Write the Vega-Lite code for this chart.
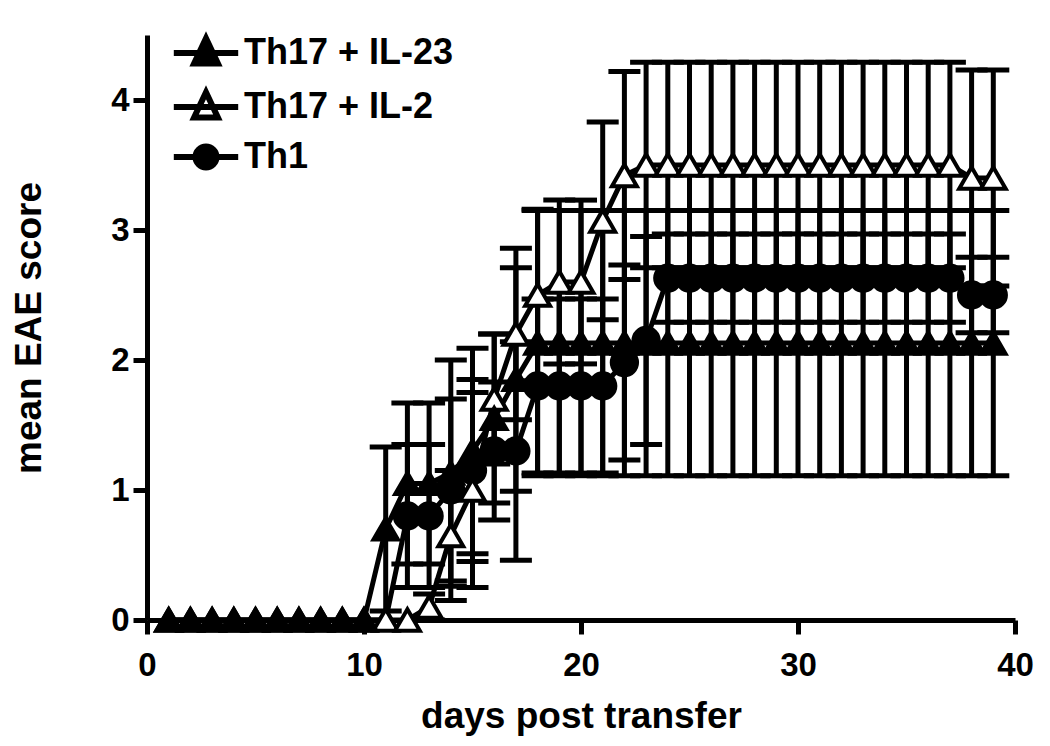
{
  "$schema": "https://vega.github.io/schema/vega-lite/v6.json",
  "width": 868,
  "height": 585,
  "autosize": "none",
  "padding": {"left": 147, "top": 35, "right": 35, "bottom": 126},
  "background": "white",
  "config": {
    "view": {"stroke": null},
    "font": "Liberation Sans",
    "axis": {
      "domainColor": "black", "domainWidth": 5, "tickColor": "black", "tickWidth": 5, "tickSize": 14,
      "labelColor": "black", "labelFont": "Liberation Sans", "labelFontWeight": "bold", "labelFontSize": 33,
      "titleFont": "Liberation Sans", "titleFontWeight": "bold", "titleFontSize": 37, "titleColor": "black",
      "grid": false
    },
    "axisX": {"titlePadding": 16, "labelPadding": 15},
    "axisY": {"titlePadding": 62, "labelPadding": 4}
  },
  "data": {"values": [
    {"day":1,"group":"Th1","mean":0,"err":0},
    {"day":2,"group":"Th1","mean":0,"err":0},
    {"day":3,"group":"Th1","mean":0,"err":0},
    {"day":4,"group":"Th1","mean":0,"err":0},
    {"day":5,"group":"Th1","mean":0,"err":0},
    {"day":6,"group":"Th1","mean":0,"err":0},
    {"day":7,"group":"Th1","mean":0,"err":0},
    {"day":8,"group":"Th1","mean":0,"err":0},
    {"day":9,"group":"Th1","mean":0,"err":0},
    {"day":10,"group":"Th1","mean":0,"err":0},
    {"day":11,"group":"Th1","mean":0,"err":0},
    {"day":12,"group":"Th1","mean":0.8,"err":0.55},
    {"day":13,"group":"Th1","mean":0.8,"err":0.55},
    {"day":14,"group":"Th1","mean":1.0,"err":0.7},
    {"day":15,"group":"Th1","mean":1.15,"err":0.7},
    {"day":16,"group":"Th1","mean":1.3,"err":0.53},
    {"day":17,"group":"Th1","mean":1.3,"err":0.84},
    {"day":18,"group":"Th1","mean":1.8,"err":0.67},
    {"day":19,"group":"Th1","mean":1.8,"err":0.67},
    {"day":20,"group":"Th1","mean":1.8,"err":0.67},
    {"day":21,"group":"Th1","mean":1.8,"err":0.67},
    {"day":22,"group":"Th1","mean":1.98,"err":0.75},
    {"day":23,"group":"Th1","mean":2.15,"err":0.8},
    {"day":24,"group":"Th1","mean":2.63,"err":0.34},
    {"day":25,"group":"Th1","mean":2.63,"err":0.34},
    {"day":26,"group":"Th1","mean":2.63,"err":0.34},
    {"day":27,"group":"Th1","mean":2.63,"err":0.34},
    {"day":28,"group":"Th1","mean":2.63,"err":0.34},
    {"day":29,"group":"Th1","mean":2.63,"err":0.34},
    {"day":30,"group":"Th1","mean":2.63,"err":0.34},
    {"day":31,"group":"Th1","mean":2.63,"err":0.34},
    {"day":32,"group":"Th1","mean":2.63,"err":0.34},
    {"day":33,"group":"Th1","mean":2.63,"err":0.34},
    {"day":34,"group":"Th1","mean":2.63,"err":0.34},
    {"day":35,"group":"Th1","mean":2.63,"err":0.34},
    {"day":36,"group":"Th1","mean":2.63,"err":0.34},
    {"day":37,"group":"Th1","mean":2.63,"err":0.34},
    {"day":38,"group":"Th1","mean":2.5,"err":0.29},
    {"day":39,"group":"Th1","mean":2.5,"err":0.29},
    {"day":1,"group":"Th17 + IL-2","mean":0,"err":0},
    {"day":2,"group":"Th17 + IL-2","mean":0,"err":0},
    {"day":3,"group":"Th17 + IL-2","mean":0,"err":0},
    {"day":4,"group":"Th17 + IL-2","mean":0,"err":0},
    {"day":5,"group":"Th17 + IL-2","mean":0,"err":0},
    {"day":6,"group":"Th17 + IL-2","mean":0,"err":0},
    {"day":7,"group":"Th17 + IL-2","mean":0,"err":0},
    {"day":8,"group":"Th17 + IL-2","mean":0,"err":0},
    {"day":9,"group":"Th17 + IL-2","mean":0,"err":0},
    {"day":10,"group":"Th17 + IL-2","mean":0,"err":0},
    {"day":11,"group":"Th17 + IL-2","mean":0,"err":0},
    {"day":12,"group":"Th17 + IL-2","mean":0,"err":0},
    {"day":13,"group":"Th17 + IL-2","mean":0.1,"err":0.1},
    {"day":14,"group":"Th17 + IL-2","mean":0.65,"err":0.5},
    {"day":15,"group":"Th17 + IL-2","mean":1.0,"err":0.75},
    {"day":16,"group":"Th17 + IL-2","mean":1.7,"err":0.5},
    {"day":17,"group":"Th17 + IL-2","mean":2.2,"err":0.66},
    {"day":18,"group":"Th17 + IL-2","mean":2.5,"err":0.66},
    {"day":19,"group":"Th17 + IL-2","mean":2.6,"err":0.63},
    {"day":20,"group":"Th17 + IL-2","mean":2.6,"err":0.63},
    {"day":21,"group":"Th17 + IL-2","mean":3.07,"err":0.76},
    {"day":22,"group":"Th17 + IL-2","mean":3.42,"err":0.8},
    {"day":23,"group":"Th17 + IL-2","mean":3.5,"err":0.79},
    {"day":24,"group":"Th17 + IL-2","mean":3.5,"err":0.79},
    {"day":25,"group":"Th17 + IL-2","mean":3.5,"err":0.79},
    {"day":26,"group":"Th17 + IL-2","mean":3.5,"err":0.79},
    {"day":27,"group":"Th17 + IL-2","mean":3.5,"err":0.79},
    {"day":28,"group":"Th17 + IL-2","mean":3.5,"err":0.79},
    {"day":29,"group":"Th17 + IL-2","mean":3.5,"err":0.79},
    {"day":30,"group":"Th17 + IL-2","mean":3.5,"err":0.79},
    {"day":31,"group":"Th17 + IL-2","mean":3.5,"err":0.79},
    {"day":32,"group":"Th17 + IL-2","mean":3.5,"err":0.79},
    {"day":33,"group":"Th17 + IL-2","mean":3.5,"err":0.79},
    {"day":34,"group":"Th17 + IL-2","mean":3.5,"err":0.79},
    {"day":35,"group":"Th17 + IL-2","mean":3.5,"err":0.79},
    {"day":36,"group":"Th17 + IL-2","mean":3.5,"err":0.79},
    {"day":37,"group":"Th17 + IL-2","mean":3.5,"err":0.79},
    {"day":38,"group":"Th17 + IL-2","mean":3.4,"err":0.83},
    {"day":39,"group":"Th17 + IL-2","mean":3.4,"err":0.83},
    {"day":1,"group":"Th17 + IL-23","mean":0,"err":0},
    {"day":2,"group":"Th17 + IL-23","mean":0,"err":0},
    {"day":3,"group":"Th17 + IL-23","mean":0,"err":0},
    {"day":4,"group":"Th17 + IL-23","mean":0,"err":0},
    {"day":5,"group":"Th17 + IL-23","mean":0,"err":0},
    {"day":6,"group":"Th17 + IL-23","mean":0,"err":0},
    {"day":7,"group":"Th17 + IL-23","mean":0,"err":0},
    {"day":8,"group":"Th17 + IL-23","mean":0,"err":0},
    {"day":9,"group":"Th17 + IL-23","mean":0,"err":0},
    {"day":10,"group":"Th17 + IL-23","mean":0,"err":0},
    {"day":11,"group":"Th17 + IL-23","mean":0.7,"err":0.63},
    {"day":12,"group":"Th17 + IL-23","mean":1.05,"err":0.62},
    {"day":13,"group":"Th17 + IL-23","mean":1.05,"err":0.62},
    {"day":14,"group":"Th17 + IL-23","mean":1.13,"err":0.87},
    {"day":15,"group":"Th17 + IL-23","mean":1.3,"err":0.79},
    {"day":16,"group":"Th17 + IL-23","mean":1.55,"err":0.65},
    {"day":17,"group":"Th17 + IL-23","mean":1.85,"err":0.86},
    {"day":18,"group":"Th17 + IL-23","mean":2.13,"err":1.02},
    {"day":19,"group":"Th17 + IL-23","mean":2.13,"err":1.02},
    {"day":20,"group":"Th17 + IL-23","mean":2.13,"err":1.02},
    {"day":21,"group":"Th17 + IL-23","mean":2.13,"err":1.02},
    {"day":22,"group":"Th17 + IL-23","mean":2.13,"err":1.02},
    {"day":23,"group":"Th17 + IL-23","mean":2.13,"err":1.02},
    {"day":24,"group":"Th17 + IL-23","mean":2.13,"err":1.02},
    {"day":25,"group":"Th17 + IL-23","mean":2.13,"err":1.02},
    {"day":26,"group":"Th17 + IL-23","mean":2.13,"err":1.02},
    {"day":27,"group":"Th17 + IL-23","mean":2.13,"err":1.02},
    {"day":28,"group":"Th17 + IL-23","mean":2.13,"err":1.02},
    {"day":29,"group":"Th17 + IL-23","mean":2.13,"err":1.02},
    {"day":30,"group":"Th17 + IL-23","mean":2.13,"err":1.02},
    {"day":31,"group":"Th17 + IL-23","mean":2.13,"err":1.02},
    {"day":32,"group":"Th17 + IL-23","mean":2.13,"err":1.02},
    {"day":33,"group":"Th17 + IL-23","mean":2.13,"err":1.02},
    {"day":34,"group":"Th17 + IL-23","mean":2.13,"err":1.02},
    {"day":35,"group":"Th17 + IL-23","mean":2.13,"err":1.02},
    {"day":36,"group":"Th17 + IL-23","mean":2.13,"err":1.02},
    {"day":37,"group":"Th17 + IL-23","mean":2.13,"err":1.02},
    {"day":38,"group":"Th17 + IL-23","mean":2.13,"err":1.02},
    {"day":39,"group":"Th17 + IL-23","mean":2.13,"err":1.02}
  ]},
  "encoding": {
    "x": {"field": "day", "type": "quantitative", "scale": {"domain": [0, 40], "nice": false},
          "axis": {"values": [0, 10, 20, 30, 40], "title": "days post transfer", "format": "d", "labelFlush": false}},
    "y": {"field": "mean", "type": "quantitative", "scale": {"domain": [0, 4.5], "nice": false},
          "axis": {"values": [0, 1, 2, 3, 4], "title": "mean EAE score", "format": "d"}}
  },
  "layer": [
    {
      "transform": [{"filter": "datum.err > 0"}],
      "mark": {"type": "errorbar", "color": "black", "opacity": 1,
               "ticks": {"size": 32, "thickness": 5, "color": "black", "opacity": 1},
               "rule": {"strokeWidth": 5, "color": "black", "opacity": 1}},
      "encoding": {
        "yError": {"field": "err"},
        "detail": {"field": "group", "type": "nominal"}
      }
    },
    {
      "mark": {"type": "line", "color": "black", "strokeWidth": 5},
      "encoding": {
        "detail": {"field": "group", "type": "nominal"},
        "order": {"field": "day", "type": "quantitative"}
      }
    },
    {
      "transform": [{"filter": "!(datum.group === 'Th1' && datum.mean === 0)"}],
      "mark": {"type": "point", "filled": true, "stroke": "black", "strokeWidth": 4, "opacity": 1},
      "encoding": {
        "order": {"field": "group", "type": "ordinal", "sort": "ascending"},
        "shape": {"field": "group", "type": "nominal", "legend": null,
                  "scale": {"domain": ["Th17 + IL-23", "Th17 + IL-2", "Th1"], "range": ["triangle-up", "triangle-up", "circle"]}},
        "fill": {"field": "group", "type": "nominal", "legend": null,
                 "scale": {"domain": ["Th17 + IL-23", "Th17 + IL-2", "Th1"], "range": ["black", "white", "black"]}},
        "size": {"field": "group", "type": "nominal", "legend": null,
                 "scale": {"domain": ["Th17 + IL-23", "Th17 + IL-2", "Th1"], "range": [600, 640, 400]}}
      }
    },
    {
      "mark": {"type": "point", "filled": true, "strokeWidth": 6, "opacity": 0},
      "encoding": {
        "shape": {"field": "group", "type": "nominal",
                  "scale": {"domain": ["Th17 + IL-23", "Th17 + IL-2", "Th1"],
                            "range": ["M0,-1.05L0.85,0.75L-0.85,0.75ZM-2.3,0H2.3", "M0,-1.05L0.85,0.75L-0.85,0.75ZM-2.3,0H2.3", "M-0.75,0A0.75,0.75 0 1,0 0.75,0A0.75,0.75 0 1,0 -0.75,0ZM-2.3,0H2.3"]},
                  "legend": {"title": null, "orient": "none", "legendX": 41, "legendY": 0, "labelLimit": 500,
                             "labelFontSize": 36, "labelFont": "Liberation Sans", "labelFontWeight": "bold", "labelColor": "black",
                             "symbolSize": 784, "symbolStrokeWidth": 6, "symbolOpacity": 1,
                             "rowPadding": 4, "labelOffset": 20, "padding": 0}},
        "fill": {"field": "group", "type": "nominal",
                 "scale": {"domain": ["Th17 + IL-23", "Th17 + IL-2", "Th1"], "range": ["black", "white", "black"]},
                 "legend": {"title": null, "orient": "none", "legendX": 41, "legendY": 0, "labelLimit": 500,
                             "labelFontSize": 36, "labelFont": "Liberation Sans", "labelFontWeight": "bold", "labelColor": "black",
                             "symbolSize": 784, "symbolStrokeWidth": 6, "symbolOpacity": 1,
                             "rowPadding": 4, "labelOffset": 20, "padding": 0}},
        "stroke": {"field": "group", "type": "nominal",
                 "scale": {"domain": ["Th17 + IL-23", "Th17 + IL-2", "Th1"], "range": ["black", "black", "black"]},
                 "legend": {"title": null, "orient": "none", "legendX": 41, "legendY": 0, "labelLimit": 500,
                             "labelFontSize": 36, "labelFont": "Liberation Sans", "labelFontWeight": "bold", "labelColor": "black",
                             "symbolSize": 784, "symbolStrokeWidth": 6, "symbolOpacity": 1,
                             "rowPadding": 4, "labelOffset": 20, "padding": 0}}
      }
    }
  ],
  "resolve": {"scale": {"shape": "independent", "fill": "independent", "size": "independent", "stroke": "independent"}}
}
